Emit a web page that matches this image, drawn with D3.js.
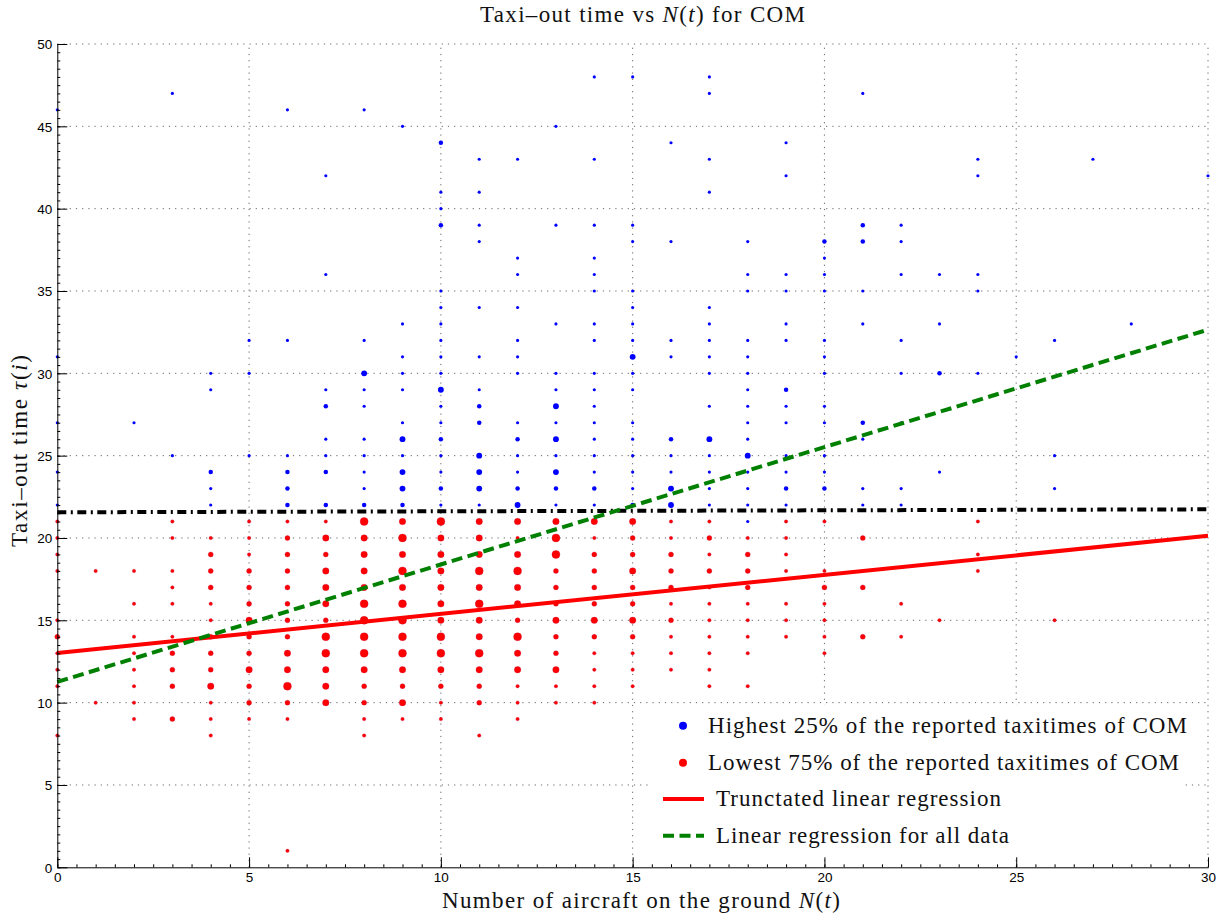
<!DOCTYPE html>
<html>
<head>
<meta charset="utf-8">
<script src="https://cdn.jsdelivr.net/npm/d3@7"></script>
<style>
  body { margin: 0; background: #fff; }
  svg { display: block; }
</style>
</head>
<body>
<svg id="chart" width="1222" height="915"></svg>
<script>
// Axis ticks
const xTicks = [0, 5, 10, 15, 20, 25, 30];
const yTicks = [0, 5, 10, 15, 20, 25, 30, 35, 40, 45, 50];

// Observations as [N(t), taxi-out time, weight]; weight = relative number of flights at that cell
const highest25 = [
  [0,46,1],[0,31,1],[0,27,1],[0,24,1],[0,22,1],
  [2,27,1],
  [3,47,1],[3,25,1],
  [4,30,1],[4,29,1],[4,24,2],[4,23,1],[4,22,1],
  [5,32,1],[5,30,1],[5,25,1],
  [6,46,1],[6,32,1],[6,25,1],[6,24,2],[6,23,2],[6,22,2],
  [7,42,1],[7,36,1],[7,29,1],[7,28,2],[7,26,1],[7,25,1],[7,24,2],[7,22,2],
  [8,46,1],[8,32,1],[8,30,3],[8,29,1],[8,28,1],[8,26,1],[8,25,1],[8,24,1],[8,23,1],[8,22,2],
  [9,45,1],[9,33,1],[9,31,1],[9,30,1],[9,29,1],[9,27,1],[9,26,3],[9,25,1],[9,24,3],[9,23,3],[9,22,2],
  [10,44,2],[10,41,1],[10,40,1],[10,39,2],[10,35,1],[10,34,1],[10,33,1],[10,32,1],[10,31,1],[10,30,1],
  [10,29,3],[10,28,1],[10,27,1],[10,26,2],[10,25,1],[10,24,1],[10,23,2],[10,22,1],
  [11,43,1],[11,41,1],[11,39,1],[11,38,1],[11,34,1],[11,31,1],[11,29,1],[11,28,2],[11,27,2],
  [11,25,3],[11,24,3],[11,23,3],[11,22,1],
  [12,43,1],[12,37,1],[12,36,1],[12,34,1],[12,32,1],[12,31,1],[12,30,1],[12,27,1],[12,26,2],
  [12,25,1],[12,24,1],[12,23,2],[12,22,3],
  [13,45,1],[13,39,1],[13,33,1],[13,30,1],[13,29,1],[13,28,3],[13,27,1],[13,26,3],[13,25,1],
  [13,24,3],[13,23,2],[13,22,1],
  [14,48,1],[14,43,1],[14,39,1],[14,37,1],[14,36,1],[14,35,1],[14,33,1],[14,32,1],[14,30,1],
  [14,29,1],[14,28,1],[14,27,1],[14,26,1],[14,25,1],[14,24,1],[14,23,2],[14,22,1],
  [15,48,1],[15,39,1],[15,38,1],[15,35,1],[15,34,1],[15,33,1],[15,32,1],[15,31,3],[15,30,1],
  [15,29,1],[15,27,1],[15,26,1],[15,25,1],[15,24,1],[15,23,1],[15,22,2],
  [16,44,1],[16,38,1],[16,32,1],[16,31,1],[16,26,2],[16,25,1],[16,24,1],[16,23,3],[16,22,3],
  [17,48,1],[17,47,1],[17,43,1],[17,41,1],[17,34,1],[17,33,1],[17,32,1],[17,31,1],[17,30,1],
  [17,28,1],[17,26,3],[17,25,1],[17,24,1],[17,23,1],[17,22,1],
  [18,38,1],[18,36,1],[18,35,1],[18,32,1],[18,31,1],[18,30,1],[18,29,1],[18,28,1],[18,27,1],
  [18,26,1],[18,25,3],[18,24,1],[18,23,1],[18,22,1],[18,21,1],
  [19,44,1],[19,42,1],[19,36,1],[19,35,1],[19,33,1],[19,32,1],[19,29,2],[19,28,1],[19,27,1],
  [19,25,1],[19,24,1],[19,23,2],[19,22,1],
  [20,38,2],[20,37,1],[20,36,1],[20,35,1],[20,32,1],[20,31,1],[20,30,1],[20,28,1],[20,27,1],
  [20,25,1],[20,24,1],[20,23,2],
  [21,47,1],[21,39,2],[21,38,2],[21,35,1],[21,33,1],[21,27,2],[21,26,1],[21,23,1],[21,22,1],
  [22,39,1],[22,38,1],[22,36,1],[22,32,1],[22,30,1],[22,27,1],[22,23,1],[22,22,1],
  [23,36,1],[23,33,1],[23,30,2],[23,24,1],
  [24,43,1],[24,42,1],[24,36,1],[24,35,1],[24,30,1],
  [25,31,1],
  [26,32,1],[26,25,1],[26,23,1],
  [27,43,1],
  [28,33,1],
  [30,42,1]
];

const lowest75 = [
  [0,21,1],[0,20,1],[0,19,1],[0,18,1],[0,15,1],[0,14,2],[0,13,1],[0,12,1],[0,11,1],[0,8,1],
  [1,18,1],[1,10,1],
  [2,18,1],[2,16,1],[2,14,1],[2,13,1],[2,12,1],[2,11,1],[2,10,1],[2,9,1],
  [3,21,1],[3,20,1],[3,18,1],[3,17,1],[3,16,1],[3,14,1],[3,13,2],[3,12,2],[3,11,2],[3,9,2],
  [4,20,1],[4,19,2],[4,18,2],[4,17,2],[4,16,1],[4,15,1],[4,14,2],[4,13,2],[4,12,2],[4,11,3],
  [4,10,1],[4,9,1],[4,8,1],
  [5,21,1],[5,20,1],[5,19,1],[5,18,2],[5,17,2],[5,16,2],[5,15,3],[5,14,2],[5,13,2],[5,12,3],
  [5,11,2],[5,10,2],[5,9,1],
  [6,21,1],[6,20,2],[6,19,2],[6,18,2],[6,17,2],[6,16,2],[6,15,2],[6,14,2],[6,13,3],[6,12,3],
  [6,11,4],[6,10,2],[6,9,1],[6,1,1],
  [7,21,1],[7,20,3],[7,19,2],[7,18,3],[7,17,3],[7,16,3],[7,15,2],[7,14,4],[7,13,4],[7,12,3],
  [7,11,3],[7,10,3],
  [8,21,4],[8,20,3],[8,19,3],[8,18,3],[8,17,3],[8,16,4],[8,15,4],[8,14,4],[8,13,4],[8,12,3],
  [8,11,2],[8,10,2],[8,9,1],[8,8,1],
  [9,21,3],[9,20,4],[9,19,3],[9,18,4],[9,17,3],[9,16,4],[9,15,4],[9,14,4],[9,13,4],[9,12,3],
  [9,11,2],[9,10,3],[9,9,1],
  [10,21,4],[10,20,3],[10,19,3],[10,18,3],[10,17,3],[10,16,3],[10,15,3],[10,14,4],[10,13,4],
  [10,12,3],[10,11,2],[10,10,1],[10,9,1],
  [11,21,3],[11,20,3],[11,19,3],[11,18,4],[11,17,3],[11,16,4],[11,15,3],[11,14,3],[11,13,4],
  [11,12,3],[11,11,2],[11,10,2],[11,8,1],
  [12,21,3],[12,20,1],[12,19,3],[12,18,4],[12,17,3],[12,16,3],[12,15,2],[12,14,4],[12,13,3],
  [12,12,3],[12,11,1],[12,10,1],[12,9,1],
  [13,21,3],[13,20,4],[13,19,4],[13,18,2],[13,17,2],[13,16,2],[13,15,3],[13,14,2],[13,13,2],
  [13,12,3],[13,11,1],[13,10,1],
  [14,21,3],[14,20,1],[14,19,2],[14,18,2],[14,17,2],[14,16,2],[14,15,3],[14,14,2],[14,13,1],
  [14,12,1],[14,11,1],[14,10,1],
  [15,21,3],[15,20,2],[15,19,2],[15,18,3],[15,17,2],[15,16,2],[15,15,3],[15,14,2],[15,13,1],
  [15,12,1],[15,11,1],
  [16,21,1],[16,20,1],[16,19,2],[16,18,2],[16,17,2],[16,16,1],[16,15,2],[16,14,1],[16,13,1],[16,12,1],
  [17,21,1],[17,20,2],[17,19,1],[17,18,2],[17,17,1],[17,16,1],[17,15,1],[17,14,1],[17,13,1],
  [17,12,1],[17,11,1],
  [18,20,1],[18,19,2],[18,18,2],[18,17,2],[18,16,1],[18,15,1],[18,14,1],[18,13,1],[18,11,1],
  [19,21,1],[19,20,1],[19,19,1],[19,18,1],[19,16,1],[19,15,1],[19,14,1],
  [20,21,1],[20,18,1],[20,17,2],[20,16,1],[20,15,1],[20,14,1],[20,13,1],
  [21,20,2],[21,17,2],[21,14,2],
  [22,16,1],[22,14,1],
  [23,15,1],
  [24,21,1],[24,19,1],[24,18,1],
  [26,15,1]
];

// Fitted lines, end points at N = 0 and N = 30
const truncatedFit = [[0, 13.02], [30, 20.13]];
const allDataFit = [[0, 11.26], [30, 32.65]];
const thresholdLine = [[0, 21.56], [30, 21.74]];

// Legend entries
const legendLabels = [
  "Highest 25% of the reported taxitimes of COM",
  "Lowest 75% of the reported taxitimes of COM",
  "Trunctated linear regression",
  "Linear regression for all data"
];

const svg = d3.select("#chart");
const serif = "'Liberation Serif', 'Times New Roman', serif";
const sans = "'Liberation Sans', Arial, sans-serif";

const x = d3.scaleLinear().domain([0, 30]).range([57.3, 1208]);
const y = d3.scaleLinear().domain([0, 50]).range([867.3, 44]);
const r = d3.scaleLinear().domain([1, 4]).range([1.75, 4]);

// Dotted grid
const grid = svg.append("g")
  .attr("stroke", "#555").attr("stroke-width", 0.9)
  .attr("stroke-dasharray", "1.2,5");
grid.selectAll("line.v").data(xTicks.slice(1)).join("line").attr("class", "v")
  .attr("x1", d => x(d)).attr("x2", d => x(d))
  .attr("y1", y(0)).attr("y2", y(50));
grid.selectAll("line.h").data(yTicks.slice(1)).join("line").attr("class", "h")
  .attr("x1", x(0)).attr("x2", x(30))
  .attr("y1", d => y(d)).attr("y2", d => y(d));

// Scatter
svg.append("g").selectAll("circle").data(highest25).join("circle")
  .attr("cx", d => x(d[0])).attr("cy", d => y(d[1])).attr("r", d => r(d[2]) * 0.9)
  .attr("fill", "#0000ff");
svg.append("g").selectAll("circle").data(lowest75).join("circle")
  .attr("cx", d => x(d[0])).attr("cy", d => y(d[1])).attr("r", d => r(d[2]))
  .attr("fill", "#ff0000").attr("stroke", "#c0003a").attr("stroke-width", 0.3);

// Lines
const line = d3.line().x(d => x(d[0])).y(d => y(d[1]));
svg.append("path").datum(thresholdLine).attr("d", line)
  .attr("fill", "none").attr("stroke", "#000").attr("stroke-width", 4)
  .attr("stroke-dasharray", "9,4.5,2,4.5");
svg.append("path").datum(truncatedFit).attr("d", line)
  .attr("fill", "none").attr("stroke", "#ff0000").attr("stroke-width", 4);
svg.append("path").datum(allDataFit).attr("d", line)
  .attr("fill", "none").attr("stroke", "#008000").attr("stroke-width", 4)
  .attr("stroke-dasharray", "11,5.5");

// Axes: major ticks point inward, minor ticks every half unit
const xAxis = svg.append("g").attr("transform", `translate(0,${y(0)})`)
  .call(d3.axisBottom(x).tickValues(xTicks).tickSizeInner(-10).tickSizeOuter(0).tickPadding(5));
svg.append("g").attr("transform", `translate(0,${y(0)})`)
  .call(d3.axisBottom(x).tickValues(d3.range(0, 30.01, 0.5)).tickSize(-3).tickFormat(""))
  .call(g => g.select(".domain").remove());
const yAxis = svg.append("g").attr("transform", `translate(${x(0)},0)`)
  .call(d3.axisLeft(y).tickValues(yTicks).tickSizeInner(-10).tickSizeOuter(0).tickPadding(5));
svg.append("g").attr("transform", `translate(${x(0)},0)`)
  .call(d3.axisLeft(y).tickValues(d3.range(0, 50.01, 0.5)).tickSize(-3).tickFormat(""))
  .call(g => g.select(".domain").remove());
[xAxis, yAxis].forEach(a => {
  a.selectAll("text").attr("font-family", sans).attr("font-size", 13.5).attr("fill", "#000");
  a.selectAll("line, path").attr("stroke", "#000");
});
yAxis.selectAll("text").attr("dy", "0.36em");

// Title and axis labels
const title = svg.append("text")
  .attr("x", 642.5).attr("y", 22).attr("text-anchor", "middle")
  .attr("font-family", serif).attr("font-size", 23).attr("fill", "#111")
  .attr("textLength", 325).attr("lengthAdjust", "spacing");
title.append("tspan").text("Taxi–out time vs ");
title.append("tspan").attr("font-style", "italic").text("N");
title.append("tspan").text("(");
title.append("tspan").attr("font-style", "italic").text("t");
title.append("tspan").text(") for COM");

const xLabel = svg.append("text")
  .attr("x", 641).attr("y", 908).attr("text-anchor", "middle")
  .attr("font-family", serif).attr("font-size", 23).attr("fill", "#111")
  .attr("textLength", 398).attr("lengthAdjust", "spacing");
xLabel.append("tspan").text("Number of aircraft on the ground ");
xLabel.append("tspan").attr("font-style", "italic").text("N");
xLabel.append("tspan").text("(");
xLabel.append("tspan").attr("font-style", "italic").text("t");
xLabel.append("tspan").text(")");

const yLabel = svg.append("text")
  .attr("transform", "translate(27,451) rotate(-90)").attr("text-anchor", "middle")
  .attr("font-family", serif).attr("font-size", 23).attr("fill", "#111")
  .attr("textLength", 192).attr("lengthAdjust", "spacing");
yLabel.append("tspan").text("Taxi–out time ");
yLabel.append("tspan").attr("font-style", "italic").text("τ");
yLabel.append("tspan").text("(");
yLabel.append("tspan").attr("font-style", "italic").text("i");
yLabel.append("tspan").text(")");

// Legend
const legend = svg.append("g");
legend.append("rect").attr("x", 650).attr("y", 705).attr("width", 532).attr("height", 151)
  .attr("fill", "#fff");
const rowY = [725.7, 762.7, 799, 835.7];
const textX = [708, 708, 716, 716];
const textW = [479, 471, 285, 293];
legend.append("circle").attr("cx", 683).attr("cy", rowY[0]).attr("r", 4).attr("fill", "#0000ff");
legend.append("circle").attr("cx", 683).attr("cy", rowY[1]).attr("r", 4).attr("fill", "#ff0000");
legend.append("line").attr("x1", 663).attr("x2", 704).attr("y1", rowY[2]).attr("y2", rowY[2])
  .attr("stroke", "#ff0000").attr("stroke-width", 4);
legend.append("line").attr("x1", 663).attr("x2", 704).attr("y1", rowY[3]).attr("y2", rowY[3])
  .attr("stroke", "#008000").attr("stroke-width", 4).attr("stroke-dasharray", "11,5.5");
legend.selectAll("text").data(legendLabels).join("text")
  .attr("x", (d, i) => textX[i]).attr("y", (d, i) => rowY[i] + 7)
  .attr("font-family", serif).attr("font-size", 23).attr("fill", "#111")
  .attr("textLength", (d, i) => textW[i]).attr("lengthAdjust", "spacing")
  .text(d => d);
</script>
</body>
</html>
